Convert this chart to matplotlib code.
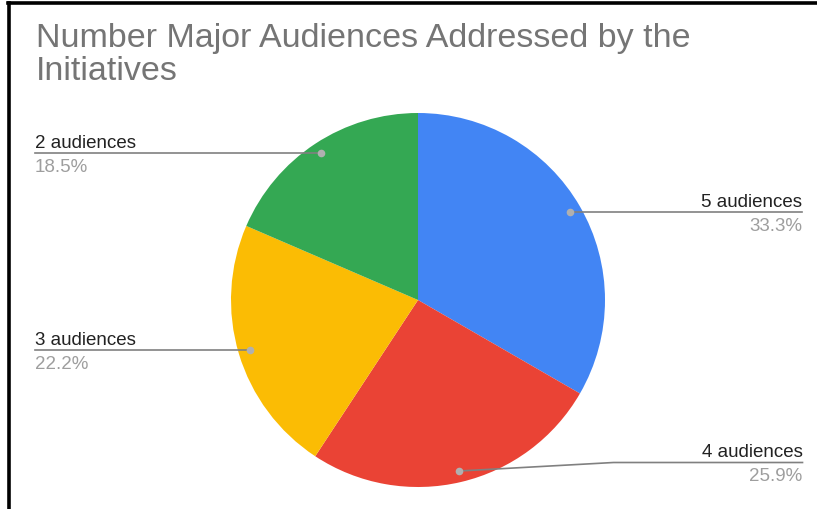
import numpy as np
import matplotlib
matplotlib.use("Agg")
import matplotlib.pyplot as plt
from matplotlib.lines import Line2D

plt.rcParams['font.family'] = ['Liberation Sans', 'DejaVu Sans']

# ---- data ----
title = "Number Major Audiences Addressed by the\nInitiatives"
categories = ["5 audiences", "4 audiences", "3 audiences", "2 audiences"]
counts = [9, 7, 6, 5]
pct_labels = ["33.3%", "25.9%", "22.2%", "18.5%"]
colors = ["#4285F4", "#EA4335", "#FBBC04", "#34A853"]

W, H = 817, 510
fig = plt.figure(figsize=(W / 100, H / 100), dpi=100)
ax = fig.add_axes([0, 0, 1, 1])

cx, cy, R = 418, H - 301, 187
wedges, _ = ax.pie(counts, colors=colors, startangle=90, counterclock=False,
                   center=(cx, cy), radius=R, wedgeprops=dict(linewidth=0))
ax.set_xlim(0, W)
ax.set_ylim(0, H)
ax.set_aspect('equal')
ax.axis('off')

line_col = "#808080"
for w, name, pct in zip(wedges, categories, pct_labels):
    mid = np.deg2rad((w.theta1 + w.theta2) / 2)
    dx, dy = np.cos(mid), np.sin(mid)
    px, py = cx + 0.94 * R * dx, cy + 0.94 * R * dy
    ly = max(py, 46.5)
    if dx >= 0:
        xe, ha = 802.5, 'right'
    else:
        xe, ha = 35, 'left'
    if ly != py:
        xb = px + (155 if dx >= 0 else -155)
        ax.plot([px, xb, xe], [py, ly, ly], color=line_col, lw=1.2, zorder=3)
    else:
        ax.plot([px, xe], [py, ly], color=line_col, lw=1.2, zorder=3)
    ax.plot([px], [py], 'o', ms=5.5, color="#b0b0b0", mec='none', zorder=4)
    ax.text(xe, ly + 6, name, ha=ha, va='baseline', fontsize=13.5, color="#222222")
    ax.text(xe, ly - 4.5, pct, ha=ha, va='top', fontsize=13.5, color="#9e9e9e")

ax.text(36, H - 23, title, ha='left', va='top', fontsize=24.5, color="#757575",
        linespacing=1.08)

# border (top and left edges)
fig.add_artist(Line2D([8 / W, 1], [1 - 4 / H, 1 - 4 / H], color='black', lw=2.6,
                      transform=fig.transFigure))
fig.add_artist(Line2D([9 / W, 9 / W], [0, 1 - 4 / H], color='black', lw=2.6,
                      transform=fig.transFigure))

fig.savefig("out.png", dpi=100, facecolor='white')
